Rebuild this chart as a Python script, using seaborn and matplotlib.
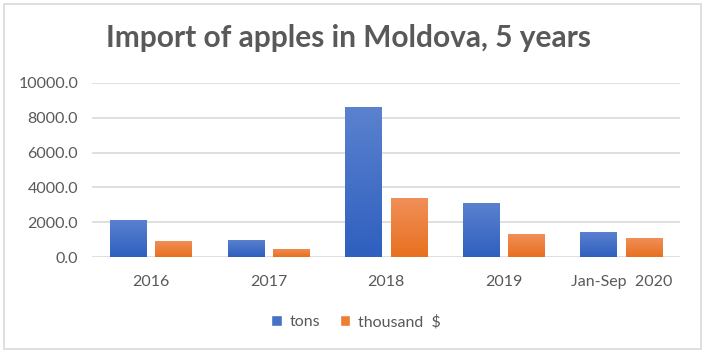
import numpy as np
import pandas as pd
import matplotlib
matplotlib.use("Agg")
import matplotlib.pyplot as plt
import seaborn as sns
from matplotlib.colors import LinearSegmentedColormap
from matplotlib.patches import Rectangle

categories = ["2016", "2017", "2018", "2019", "Jan-Sep  2020"]
tons = [2140, 1000, 8630, 3130, 1470]
thousand_usd = [935, 495, 3415, 1320, 1090]
series_names = ["tons", "thousand  $"]
yticks = [0, 2000, 4000, 6000, 8000, 10000]

df = pd.DataFrame({
    "cat": categories * 2,
    "value": tons + thousand_usd,
    "series": [series_names[0]] * len(categories) + [series_names[1]] * len(categories),
})

sns.set_theme(style="white")
plt.rcParams["font.family"] = ["Lato", "DejaVu Sans"]

fig = plt.figure(figsize=(7.06, 3.53), dpi=100)
ax = fig.add_axes([92/706, 1-257.3/353, (680-92)/706, (257.3-82.7)/353])

palette = {series_names[0]: "#4472C4", series_names[1]: "#ED7D31"}
sns.barplot(data=df, x="cat", y="value", hue="series", palette=palette,
            width=0.77, gap=0.2, ax=ax, legend=True, saturation=1, zorder=3)

# gradient fills
grads = {
    series_names[0]: LinearSegmentedColormap.from_list("b", ["#2f5fbf", "#5b82cf"]),
    series_names[1]: LinearSegmentedColormap.from_list("o", ["#e8701f", "#f0905a"]),
}
for cont, name in zip(ax.containers, series_names):
    for bar in cont:
        x0, y0 = bar.get_x(), bar.get_y()
        w, h = bar.get_width(), bar.get_height()
        grad = np.linspace(0, 1, 256).reshape(-1, 1)
        im = ax.imshow(grad, cmap=grads[name], origin="lower", aspect="auto",
                       extent=[x0, x0 + w, y0, y0 + h], zorder=3.5)
        im.set_clip_path(bar)
        bar.set_edgecolor("none")

ax.set_xlim(-0.5, 4.5)
ax.set_ylim(0, 10000)
ax.set_yticks(yticks)
ax.set_yticklabels([f"{v:.1f}" for v in yticks])
ax.grid(axis="y", color="#d9d9d9", linewidth=1.2, zorder=0)
ax.grid(axis="x", visible=False)
for s in ["top", "right", "left", "bottom"]:
    ax.spines[s].set_visible(False)
ax.tick_params(axis="both", length=0, labelsize=11.5, colors="#595959")
ax.tick_params(axis="x", pad=13)
ax.tick_params(axis="y", pad=10)
ax.set_xlabel("")
ax.set_ylabel("")

leg = ax.legend(loc="center", bbox_to_anchor=(356/706, 1-322/353),
                bbox_transform=fig.transFigure, ncol=2, frameon=False,
                fontsize=11.5, handlelength=0.65, handleheight=0.65,
                handletextpad=0.5, columnspacing=1.2)
for t in leg.get_texts():
    t.set_color("#595959")

fig.text(348/706, 1-38/353, "Import of apples in Moldova, 5 years",
         ha="center", va="center", fontsize=21.5, fontweight="bold", color="#595959")

fig.patches.append(Rectangle((4/706, 1-349/353), (700.7-4)/706, (349-4)/353,
                             transform=fig.transFigure, fill=False,
                             edgecolor="#d9d9d9", linewidth=1.2))

fig.savefig("out.png", dpi=100)
